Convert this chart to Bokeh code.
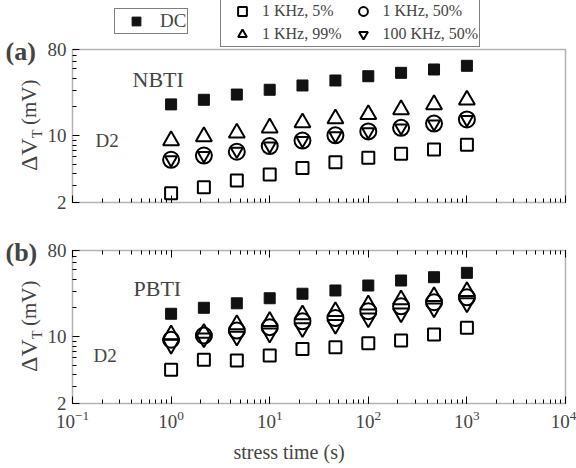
import numpy as np
from bokeh.plotting import figure
from bokeh.models import (LogAxis, FixedTicker, LogTicker, CustomJSTickFormatter,
                          NumeralTickFormatter, Label, Legend, LegendItem, Range1d,
                          BoxAnnotation)
from bokeh.layouts import column
from bokeh.embed import file_html
from bokeh.resources import INLINE

# ---------------- data ----------------
time_s = [1, 2.15, 4.64, 10, 21.5, 46.4, 100, 215, 464, 1000]

nbti_dc = [21.3, 23.8, 27.0, 30.3, 33.6, 37.9, 42.0, 45.6, 49.4, 54.0]
nbti_1k_5 = [2.50, 2.89, 3.40, 3.93, 4.59, 5.28, 5.88, 6.47, 7.18, 8.04]
nbti_1k_50 = [5.6, 6.2, 6.8, 7.8, 8.9, 10.1, 11.1, 12.1, 13.4, 14.8]
nbti_1k_99 = [8.9, 9.8, 10.7, 12.1, 13.7, 15.1, 16.7, 18.8, 21.2, 23.7]
nbti_100k_50 = [5.6, 6.2, 6.9, 7.8, 8.9, 10.0, 11.0, 12.1, 13.3, 14.8]

pbti_dc = [17.4, 20.1, 22.4, 25.3, 28.2, 30.5, 34.4, 38.8, 42.0, 46.7]
pbti_1k_5 = [4.51, 5.74, 5.64, 6.36, 7.44, 7.78, 8.56, 9.14, 10.56, 12.4]
pbti_1k_50 = [9.3, 10.3, 11.6, 12.6, 14.5, 15.7, 18.5, 20.8, 23.0, 25.9]
pbti_1k_99 = [10.5, 10.9, 13.4, 14.5, 17.0, 18.4, 21.6, 24.4, 26.4, 29.8]
pbti_100k_50 = [8.3, 9.7, 10.1, 10.9, 12.4, 13.4, 15.7, 17.7, 20.0, 22.6]

x_bounds = (0.1, 1e4)
y_bounds = (2, 80)
y_major = [2, 10, 80]
y_minor = [3, 4, 5, 6, 7, 8, 9, 20, 30, 40, 50, 60, 70]

SERIF = "Liberation Serif"
W = 576
PANEL_L, PANEL_R = 72, 565
XPD = (PANEL_R - PANEL_L) / np.log10(x_bounds[1] / x_bounds[0])   # px per decade (x)
YPD = 153 / np.log10(y_bounds[1] / y_bounds[0])                    # px per decade (y)
x_lo = x_bounds[0] * 10 ** (-PANEL_L / XPD)
x_hi = x_bounds[1] * 10 ** ((W - PANEL_R) / XPD)

TICKS = dict(major_tick_in=7, major_tick_out=0, minor_tick_in=4, minor_tick_out=0,
             major_tick_line_width=1, minor_tick_line_width=1,
             major_tick_line_color="black", minor_tick_line_color="black",
             axis_line_color=None)


def lbl(p, H, text, x, cy, size, bold=False, angle=0.0):
    """x, cy in canvas pixels of this figure (cy measured from the top)."""
    p.add_layout(Label(x=x, y=H - cy, x_units="screen", y_units="screen", text=text,
                       angle=angle, text_font=SERIF, text_font_size=size,
                       text_font_style="bold" if bold else "normal",
                       text_baseline="alphabetic", text_align="left"))


def make_panel(H, ptop, pbot, tag, name, name_xy, d2_xy, series, inv_size,
               show_xlabels, top_ticks):
    y_lo = y_bounds[0] * 10 ** (-(H - pbot) / YPD)
    y_hi = y_bounds[1] * 10 ** (ptop / YPD)
    p = figure(width=W, height=H, x_axis_type="log", y_axis_type="log",
               x_range=Range1d(x_lo, x_hi), y_range=Range1d(y_lo, y_hi),
               x_axis_location=None, y_axis_location=None, min_border=0,
               output_backend="svg", toolbar_location=None)
    p.title.visible = False
    p.grid.visible = False
    p.outline_line_color = None
    p.background_fill_color = "white"
    p.border_fill_color = "white"

    # panel frame
    p.add_layout(BoxAnnotation(left=x_bounds[0], right=x_bounds[1], bottom=y_bounds[0],
                               top=y_bounds[1], fill_alpha=0, line_color="black",
                               line_width=1.5))

    xa = LogAxis(fixed_location=y_bounds[0], bounds=x_bounds,
                 ticker=LogTicker(num_minor_ticks=10),
                 major_label_text_font=SERIF, major_label_text_font_size="19px",
                 major_label_standoff=7, **TICKS)
    if not show_xlabels:
        xa.formatter = CustomJSTickFormatter(code="return ''")
    p.add_layout(xa, "below")

    ya = LogAxis(fixed_location=x_bounds[0], bounds=y_bounds,
                 ticker=FixedTicker(ticks=y_major, minor_ticks=y_minor),
                 formatter=NumeralTickFormatter(format="0"),
                 major_label_text_font=SERIF, major_label_text_font_size="19px",
                 major_label_standoff=6, **TICKS)
    p.add_layout(ya, "left")

    if top_ticks:
        ta = LogAxis(fixed_location=y_bounds[1], bounds=x_bounds,
                     ticker=LogTicker(num_minor_ticks=10),
                     formatter=CustomJSTickFormatter(code="return ''"), **TICKS)
        p.add_layout(ta, "above")

    dc, s5, s50, s99, s100k = series
    r_dc = p.scatter(time_s, dc, marker="square", size=11, fill_color="#111111",
                     line_color="#111111", line_width=1)
    r_5 = p.scatter(time_s, s5, marker="square", size=12, fill_color=None,
                    line_color="black", line_width=2)
    r_50 = p.scatter(time_s, s50, marker="circle", size=16, fill_color=None,
                     line_color="black", line_width=2)
    r_99 = p.scatter(time_s, s99, marker="triangle", size=16, fill_color=None,
                     line_color="black", line_width=2)
    r_100k = p.scatter(time_s, s100k, marker="inverted_triangle", size=inv_size,
                       fill_color=None, line_color="black", line_width=2)

    lbl(p, H, tag, 5, ptop + 2, "26px", bold=True)
    lbl(p, H, name, name_xy[0], name_xy[1], "22px")
    lbl(p, H, "D2", d2_xy[0], d2_xy[1], "19px")
    # y-axis label  ΔV_T (mV), rotated
    mid = (ptop + pbot) / 2.0
    lbl(p, H, "\u0394V", 28, mid + 45, "24px", angle=np.pi / 2)
    lbl(p, H, "T", 37, mid + 12, "14px", angle=np.pi / 2)
    lbl(p, H, "(mV)", 28, mid - 1, "21px", angle=np.pi / 2)
    return p, (r_dc, r_5, r_50, r_99, r_100k)


HA, HB = 226, 242
pa, ra = make_panel(HA, 49, 202, "(a)", "NBTI", (132, 79), (95, 140),
                    (nbti_dc, nbti_1k_5, nbti_1k_50, nbti_1k_99, nbti_100k_50), 12,
                    show_xlabels=False, top_ticks=False)
pb, rb = make_panel(HB, 24, 177, "(b)", "PBTI", (133, 62), (93, 129),
                    (pbti_dc, pbti_1k_5, pbti_1k_50, pbti_1k_99, pbti_100k_50), 16,
                    show_xlabels=True, top_ticks=True)

lbl(pb, HB, "stress time (s)", 233, 225, "20px")

r_dc, r_5, r_50, r_99, r_100k = ra
leg1 = Legend(items=[LegendItem(label="DC", renderers=[r_dc])],
              location=(114, HA - 34), orientation="vertical",
              border_line_color="black", border_line_width=1,
              padding=1, margin=0, glyph_width=40, glyph_height=22, label_height=20,
              label_standoff=4, label_text_font=SERIF, label_text_font_size="19px",
              background_fill_color="white", background_fill_alpha=1)
leg2 = Legend(items=[LegendItem(label="1 KHz, 5%", renderers=[r_5]),
                     LegendItem(label="1 KHz, 50%", renderers=[r_50]),
                     LegendItem(label="1 KHz, 99%", renderers=[r_99]),
                     LegendItem(label="100 KHz, 50%", renderers=[r_100k])],
              location=(220, HA - 47), orientation="horizontal", ncols=2,
              border_line_color="black", border_line_width=1,
              padding=1, margin=0, spacing=1, glyph_width=40, glyph_height=22,
              label_height=20, label_standoff=0, label_text_font=SERIF,
              label_text_font_size="16px",
              background_fill_color="white", background_fill_alpha=1)
pa.add_layout(leg1, "center")
pa.add_layout(leg2, "center")

layout = column(pa, pb, spacing=0)
open("out.html", "w").write(file_html(layout, INLINE))
